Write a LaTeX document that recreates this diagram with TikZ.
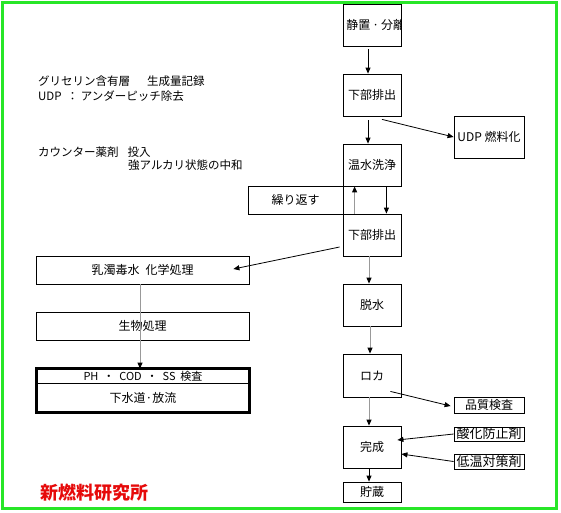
\documentclass[tikz,border=0pt]{standalone}
\usepackage{fontspec}
\setmainfont{Noto Sans CJK JP}
\usetikzlibrary{arrows.meta,calc}
\definecolor{frame}{RGB}{40,230,40}
\definecolor{brand}{RGB}{230,10,10}
\begin{document}
\begin{tikzpicture}[x=1pt,y=-1pt,
 box/.style={draw, line width=0.8pt, inner sep=0pt, font=\fontsize{12}{14}\selectfont},
 col/.style={box, minimum width=58pt, minimum height=42pt},
 side/.style={box, minimum width=70pt, minimum height=15pt},
 wide/.style={box, minimum width=213pt, minimum height=28pt},
 note/.style={anchor=west, inner sep=0pt, font=\fontsize{11.5}{14}\selectfont},
 arr/.style={line width=0.8pt, -{Triangle[length=6pt,width=5pt]}},
 garr/.style={line width=1pt, draw=gray!80, -{Triangle[length=6pt,width=5pt,color=black]}},
]
\useasboundingbox (0,0) rectangle (561,512);
\fill[white] (0,0) rectangle (561,512);
\draw[line width=3pt, draw=frame] (2,2) rectangle (556,508);

% right column
\node[col, path picture={\node[anchor=west, inner sep=0pt, font=\fontsize{12}{14}\selectfont] at ([xshift=3pt]path picture bounding box.west) {静置\,·\,分離};}] (s1) at (372,25) {};
\node[col] (d1) at (372,95) {下部排出};
\node[box, minimum width=70pt, minimum height=42pt] (u) at (489,137) {UDP 燃料化};
\node[col] (w) at (372,165) {温水洗浄};
\node[box, minimum width=95pt, minimum height=28pt] (r) at (295.5,200) {繰り返す};
\node[col] (d2) at (372,235) {下部排出};
\node[col] (dh) at (372,305) {脱水};
\node[col, minimum height=43pt] (ro) at (372,375.5) {ロカ};
\node[side, minimum height=16pt] (q) at (489,405) {品質検査};
\node[col] (c) at (372,447) {完成};
\node[side, minimum height=14pt, font=\fontsize{13}{14}\selectfont] (a1) at (489,434) {酸化防止剤};
\node[side, font=\fontsize{13}{14}\selectfont] (l1) at (489,461.5) {低温対策剤};
\node[col, minimum height=20pt] (st) at (372,492) {貯蔵};

% left column
\node[wide] (k1) at (142.5,270) {乳濁毒水\enspace 化学処理};
\node[wide] (k2) at (142.5,326) {生物処理};
\node[box, minimum width=212pt, minimum height=14pt, font=\fontsize{11}{13}\selectfont] (ph) at (143,376) {PH\ \ ・\ \ COD\ \ ・\ \ SS\ \ 検査};
\node[box, minimum width=212pt, minimum height=29pt] (sw) at (143,397.5) {下水道·放流};
\draw[line width=3pt] (ph.north west) rectangle (sw.south east);

% notes
\node[note] (n1) at (38,81) {グリセリン含有層\hspace{17pt}生成量記録};
\node[note] (n2) at (38,96) {UDP\ \ ：\ アンダーピッチ除去};
\node[note] (n3) at (38,152) {カウンター薬剤\hspace{9pt}投入};
\node[note] (n4) at (128,165) {強アルカリ状態の中和};
\node[anchor=west, inner sep=0pt, text=brand, font=\fontsize{18}{20}\selectfont\bfseries] (lab) at (40,493) {新燃料研究所};

% connectors
\draw[arr] ($(s1.south)+(-4,3)$) -- ($(d1.north)+(-4,0)$);
\draw[arr] ($(d1.south)+(-4,4)$) -- ($(w.north)+(-4,0)$);
\draw[arr] ($(d1.south)+(10,3)$) -- (u.west);
\draw[garr] ($(d2.north west)+(12,0)$) -- ($(w.south west)+(12,0)$);
\draw[arr] ($(w.south east)+(-15,0)$) -- ($(d2.north east)+(-15,0)$);
\draw[arr] ($(d2.west)+(-3,12)$) -- ($(k1.east)+(-16,-1)$);
\draw[garr] ($(k1.south)+(-2.5,0)$) -- ($(ph.north)+(-3,0)$);
\draw[garr] ($(d2.south)+(-3,0)$) -- ($(dh.north)+(-3,0)$);
\draw[garr] ($(dh.south)+(-2,0)$) -- ($(ro.north)+(-2,0)$);
\draw[arr] ($(ro.south east)+(-11,-6)$) -- ($(q.west)+(-3,1)$);
\draw[garr] ($(ro.south)+(-3,0)$) -- ($(c.north)+(-3,0)$);
\draw[arr] (a1.west) -- ($(c.east)+(-4,-7)$);
\draw[arr] (l1.west) -- ($(c.east)+(0,7)$);
\draw[arr] ($(c.south)+(-3,0)$) -- ($(st.north)+(-3,0)$);
\end{tikzpicture}
\end{document}
